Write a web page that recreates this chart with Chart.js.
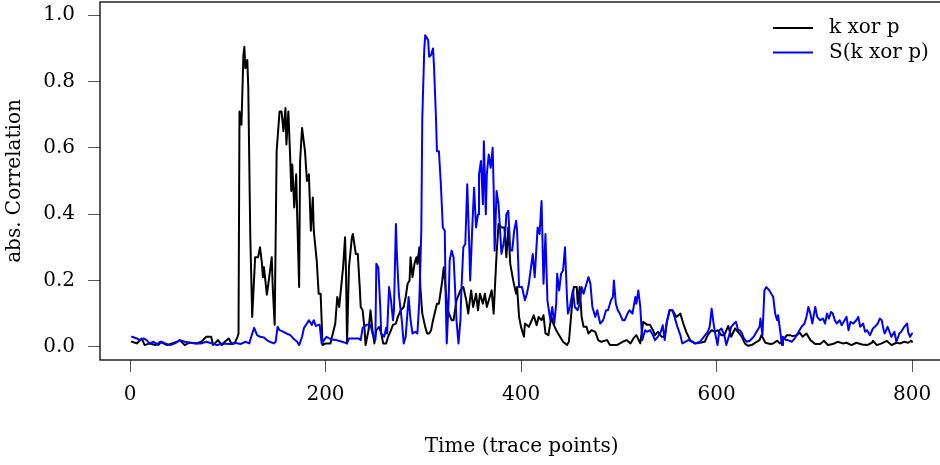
<!DOCTYPE html>
<html>
<head>
<meta charset="utf-8">
<script src="https://cdn.jsdelivr.net/npm/chart.js@4"></script>
<style>
  html, body { margin: 0; padding: 0; background: #fff; overflow: hidden; }
  canvas { display: block; }
</style>
</head>
<body>
<canvas id="corrChart" width="950" height="465"></canvas>
<script>
// ===============================
// Data
// ===============================
const seriesNames = ["k xor p", "S(k xor p)"];
const seriesColors = ["#000000", "#0000ff"];
const xTicks = [0, 200, 400, 600, 800];
const yTicks = [0, 0.2, 0.4, 0.6, 0.8, 1.0];

// k xor p
const traceK = [
  2,7,12,15,20,26,31,38,43,48,
  51,56,61,68,73,78,83,85,90,94,
  97,101,104,107,110,111,112,114,116,117,
  118,120,121,123,125,128,131,133,135,136,
  137,140,142,145,146,148,150,153,155,157,
  159,160,162,164,165,166,168,170,171,173,
  174,176,179,181,183,185,187,188,191,193,
  195,197,200,205,210,212,214,217,218,220,
  221,222,224,227,228,231,233,235,236,238,
  240,241,244,246,248,250,252,255,257,259,
  262,264,267,269,272,274,277,280,282,284,
  286,287,289,291,293,294,296,297,299,302,
  304,306,308,310,314,316,319,321,323,325,
  329,331,334,338,341,344,346,349,351,354,
  356,358,361,363,365,368,370,372,375,377,
  380,383,385,387,389,392,395,396,398,400,
  403,404,408,411,413,416,418,421,423,425,
  428,431,433,436,439,443,447,449,452,454,
  457,458,460,462,464,467,469,472,476,479,
  482,488,491,498,504,508,512,515,518,522,
  525,529,532,535,537,540,544,547,549,552,
  555,559,563,566,569,573,578,583,588,591,
  595,598,601,605,608,612,615,619,622,626,
  629,632,636,641,644,646,650,655,658,662,
  665,668,672,675,678,682,685,688,692,696,
  701,706,710,714,719,724,729,733,738,743,
  749,754,759,760,764,769,774,779,784,788,
  792,796,799,800
];
const corrK = [
  .015,.01,.025,.005,.01,.005,.015,.005,.01,.015,
  .02,.005,.013,.01,.015,.03,.03,.005,.02,.005,
  .015,.025,.008,.01,.03,.04,.71,.67,.88,.905,
  .84,.865,.78,.34,.09,.27,.27,.30,.25,.21,
  .24,.157,.20,.27,.18,.066,.59,.71,.71,.65,
  .72,.61,.71,.56,.47,.55,.42,.52,.40,.18,
  .56,.66,.59,.50,.52,.35,.45,.35,.26,.16,
  .16,.005,.01,.01,.07,.15,.12,.21,.24,.33,
  .22,.01,.24,.33,.34,.28,.28,.18,.12,.11,
  .05,.005,.05,.11,.05,.01,.05,.06,.04,.01,
  .01,.03,.05,.066,.07,.09,.11,.12,.15,.19,
  .20,.27,.21,.25,.27,.25,.30,.18,.10,.06,
  .04,.04,.05,.08,.13,.13,.19,.24,.17,.11,
  .08,.08,.14,.17,.18,.14,.10,.17,.12,.16,
  .11,.16,.13,.16,.12,.15,.17,.10,.28,.37,
  .36,.36,.27,.36,.25,.20,.16,.18,.09,.06,
  .03,.07,.06,.08,.095,.065,.09,.08,.095,.04,
  .035,.09,.07,.05,.035,.015,.005,.015,.12,.18,
  .18,.13,.18,.09,.06,.06,.04,.05,.045,.02,
  .015,.02,.005,.005,.015,.02,.01,.025,.035,.01,
  .075,.066,.066,.05,.035,.045,.03,.03,.07,.11,
  .11,.09,.10,.07,.045,.02,.01,.012,.015,.035,
  .05,.045,.05,.035,.035,.063,.03,.055,.045,.03,
  .01,.003,.005,.015,.02,.035,.012,.008,.01,.018,
  .01,.02,.035,.035,.032,.035,.043,.03,.04,.02,
  .008,.008,.018,.005,.008,.015,.01,.012,.005,.012,
  .007,.005,.012,.018,.005,.01,.018,.005,.012,.01,
  .015,.012,.018,.015
];

// S(k xor p)
const traceS = [
  2,7,10,14,17,20,24,29,32,36,
  41,46,51,56,61,68,73,78,84,89,
  95,102,107,113,118,122,124,127,130,133,
  137,140,143,147,149,151,153,157,160,164,
  167,171,173,176,178,181,183,186,188,190,
  193,194,196,201,206,211,217,222,224,228,
  234,236,238,242,246,248,251,252,254,256,
  257,260,262,263,265,267,269,270,272,273,
  275,278,280,282,284,285,287,289,292,294,
  296,298,299,301,302,305,306,308,310,311,
  313,314,316,318,320,322,323,324,326,327,
  329,331,332,334,336,338,339,341,343,345,
  347,348,350,352,354,356,357,359,361,362,
  364,365,367,369,371,372,373,375,377,379,
  380,382,384,385,387,389,391,393,395,396,
  398,401,404,406,408,412,414,417,419,421,
  423,425,427,430,432,434,436,437,439,441,
  443,445,447,448,450,453,455,458,460,462,
  464,467,469,471,473,476,478,481,484,487,
  489,492,494,495,497,499,501,504,506,509,
  511,514,517,518,520,522,524,527,529,532,
  535,537,540,543,545,547,549,552,555,557,
  560,563,565,568,571,575,578,583,587,591,
  593,595,597,598,601,603,605,608,610,613,
  615,618,620,622,624,626,628,631,634,638,
  641,644,645,647,649,651,654,656,658,660,
  662,663,665,667,668,671,673,677,680,684,
  687,690,692,694,696,698,701,703,706,709,
  711,713,715,717,719,721,723,726,728,731,
  733,735,737,740,743,745,747,750,752,754,
  757,760,762,765,767,769,771,772,775,777,
  779,782,784,787,789,792,795,796,798,800
];
const corrS = [
  .03,.025,.02,.025,.02,.01,.015,.005,.015,.01,
  .005,.01,.02,.015,.012,.01,.01,.015,.01,.005,
  .01,.008,.012,.008,.015,.01,.03,.057,.035,.03,
  .028,.02,.015,.01,.015,.06,.05,.045,.04,.035,
  .025,.015,.005,.03,.057,.07,.08,.066,.08,.063,
  .066,.066,.01,.03,.022,.02,.015,.01,.025,.025,
  .025,.02,.057,.066,.066,.04,.02,.25,.24,.12,
  .04,.03,.057,.04,.18,.14,.08,.11,.37,.28,
  .16,.08,.01,.03,.11,.15,.08,.04,.045,.04,
  .14,.35,.69,.895,.94,.925,.875,.88,.90,.845,
  .69,.59,.59,.49,.36,.35,.14,.01,.14,.26,
  .29,.27,.21,.08,.01,.08,.17,.30,.31,.49,
  .31,.20,.35,.48,.36,.40,.52,.56,.43,.62,
  .40,.52,.58,.54,.60,.48,.29,.47,.43,.33,
  .28,.31,.35,.40,.41,.29,.29,.35,.38,.35,
  .18,.18,.14,.16,.19,.28,.21,.36,.34,.44,
  .19,.34,.14,.08,.12,.07,.13,.22,.17,.22,
  .23,.30,.15,.10,.12,.17,.12,.11,.13,.18,
  .16,.19,.21,.19,.12,.09,.11,.07,.08,.11,
  .11,.14,.15,.20,.13,.11,.10,.08,.08,.10,
  .11,.10,.15,.13,.17,.12,.02,.05,.045,.05,
  .035,.02,.03,.045,.065,.02,.075,.11,.11,.09,
  .06,.035,.01,.015,.02,.015,.01,.015,.03,.045,
  .06,.115,.07,.05,.005,.05,.055,.035,.005,.035,
  .06,.07,.075,.05,.05,.04,.025,.015,.018,.03,
  .045,.06,.085,.035,.17,.18,.17,.16,.15,.10,
  .08,.095,.05,.005,.03,.02,.02,.015,.025,.045,
  .06,.07,.09,.12,.10,.07,.12,.09,.08,.085,
  .07,.10,.085,.105,.10,.08,.07,.08,.065,.08,
  .09,.05,.075,.07,.08,.09,.06,.07,.045,.05,
  .035,.055,.06,.07,.085,.08,.05,.04,.06,.045,
  .03,.045,.015,.04,.045,.06,.07,.045,.03,.04
];

function toPoints(xs, ys) {
    return xs.map((x, i) => ({ x: x, y: ys[i] }));
}

const FONT = "'DejaVu Serif', 'Liberation Serif', serif";
Chart.defaults.font.family = FONT;
Chart.defaults.font.size = 20;
Chart.defaults.color = "#000";

// ===============================
// Plot box (R style frame)
// ===============================
const framePlugin = {
    id: "frame",
    afterDatasetsDraw(chart) {
        const { ctx, chartArea: a } = chart;
        ctx.save();
        ctx.strokeStyle = "#000";
        ctx.lineWidth = 1.3;
        ctx.strokeRect(a.left, a.top, a.right - a.left, a.bottom - a.top);
        ctx.restore();
    }
};

// ===============================
// Legend, top right, no box
// ===============================
const legendPlugin = {
    id: "rLegend",
    afterDraw(chart) {
        const ctx = chart.ctx;
        ctx.save();
        ctx.font = "20px " + FONT;
        ctx.textBaseline = "middle";
        ctx.textAlign = "left";
        chart.data.datasets.forEach((ds, i) => {
            const y = 28 + i * 24.5;
            ctx.strokeStyle = ds.borderColor;
            ctx.lineWidth = 2;
            ctx.beginPath();
            ctx.moveTo(773, y);
            ctx.lineTo(813, y);
            ctx.stroke();
            ctx.fillStyle = "#000";
            ctx.fillText(ds.label, 829, y);
        });
        ctx.restore();
    }
};

new Chart(document.getElementById("corrChart"), {
    type: "line",
    data: {
        datasets: [
            {
                label: seriesNames[0],
                data: toPoints(traceK, corrK),
                borderColor: seriesColors[0],
                borderWidth: 2,
                pointRadius: 0,
                tension: 0,
                borderJoinStyle: "round",
                borderCapStyle: "round",
                order: 1
            },
            {
                label: seriesNames[1],
                data: toPoints(traceS, corrS),
                borderColor: seriesColors[1],
                borderWidth: 2,
                pointRadius: 0,
                tension: 0,
                borderJoinStyle: "round",
                borderCapStyle: "round",
                order: 0
            }
        ]
    },
    options: {
        responsive: false,
        animation: false,
        layout: { padding: { left: 0, right: 6.7, top: 2, bottom: 0 } },
        plugins: {
            legend: { display: false },
            tooltip: { enabled: false }
        },
        scales: {
            x: {
                type: "linear",
                min: -30.7,
                max: 832,
                afterBuildTicks: s => { s.ticks = xTicks.map(v => ({ value: v })); },
                afterFit: s => {
                    s.height = 105;
                    s.paddingLeft = 0; s.paddingRight = 0;
                },
                grid: {
                    drawOnChartArea: false,
                    drawTicks: true,
                    tickLength: 12,
                    color: "#555",
                    lineWidth: 1
                },
                border: { display: false },
                ticks: {
                    padding: 11,
                    maxRotation: 0,
                    autoSkip: false,
                    callback: v => String(v)
                },
                title: {
                    display: true,
                    text: "Time (trace points)",
                    padding: { top: 0, bottom: 6 }
                }
            },
            y: {
                type: "linear",
                min: -0.04,
                max: 1.04,
                afterBuildTicks: s => { s.ticks = yTicks.map(v => ({ value: v })); },
                afterFit: s => {
                    s.width = 100;
                    s.paddingTop = 0; s.paddingBottom = 0;
                },
                grid: {
                    drawOnChartArea: false,
                    drawTicks: true,
                    tickLength: 12,
                    color: "#555",
                    lineWidth: 1
                },
                border: { display: false },
                ticks: {
                    padding: 13,
                    autoSkip: false,
                    callback: v => Number(v).toFixed(1)
                },
                title: {
                    display: true,
                    text: "abs. Correlation",
                    padding: { top: 3, bottom: 0 }
                }
            }
        }
    },
    plugins: [framePlugin, legendPlugin]
});
</script>
</body>
</html>
